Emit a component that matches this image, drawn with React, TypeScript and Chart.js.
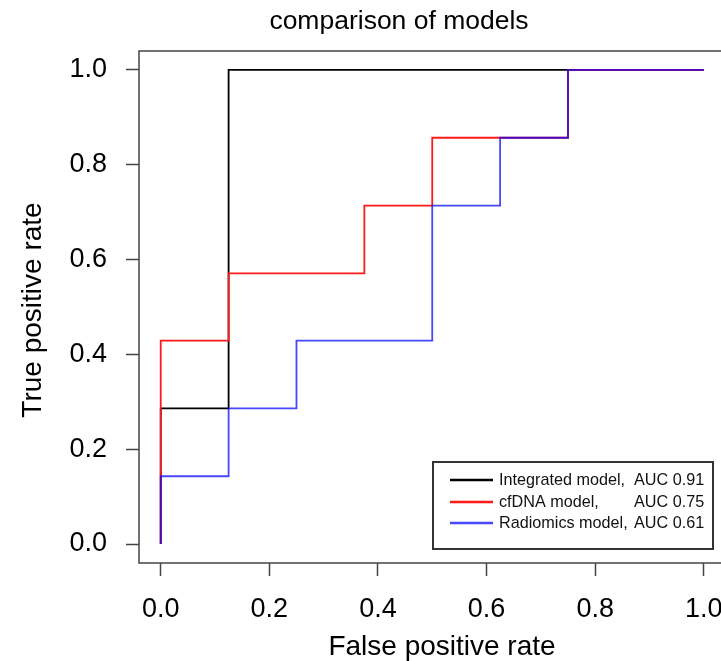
import React, { useEffect, useRef } from "react";
import { Chart, registerables } from "chart.js";
Chart.register(...registerables);

const TITLE = "comparison of models";
const X_LABEL = "False positive rate";
const Y_LABEL = "True positive rate";
const TICKS = [0, 0.2, 0.4, 0.6, 0.8, 1.0];

const SERIES_NAMES = ["Integrated model,", "cfDNA model,", "Radiomics model,"];
const AUC_LABELS = ["AUC 0.91", "AUC 0.75", "AUC 0.61"];
const COLORS = ["#000000", "#ff1a1a", "rgba(0,0,255,0.72)"];

const integratedFPR = [0, 0, 0.125, 0.125, 1];
const integratedTPR = [0, 0.286, 0.286, 1, 1];
const cfdnaFPR = [0, 0, 0.125, 0.125, 0.375, 0.375, 0.5, 0.5, 0.75, 0.75, 1];
const cfdnaTPR = [0, 0.429, 0.429, 0.571, 0.571, 0.714, 0.714, 0.857, 0.857, 1, 1];
const radiomicsFPR = [0, 0, 0.125, 0.125, 0.25, 0.25, 0.5, 0.5, 0.625, 0.625, 0.75, 0.75, 1];
const radiomicsTPR = [0, 0.143, 0.143, 0.286, 0.286, 0.429, 0.429, 0.714, 0.714, 0.857, 0.857, 1, 1];

const FONT = "'Liberation Sans', Arial, Helvetica, sans-serif";

const toPoints = (xs: number[], ys: number[]) => xs.map((x, i) => ({ x, y: ys[i] }));

const decorations = {
  id: "decorations",
  afterDraw(chart: any) {
    const { ctx, chartArea } = chart;
    const { left, top, right, bottom } = chartArea;
    ctx.save();
    // plot box
    ctx.strokeStyle = "#444";
    ctx.lineWidth = 1.5;
    ctx.strokeRect(left, top, right - left, bottom - top);

    ctx.fillStyle = "#000";
    // title
    ctx.font = `26.5px ${FONT}`;
    ctx.textAlign = "center";
    ctx.textBaseline = "alphabetic";
    ctx.fillText(TITLE, 399, 29);
    // x label
    ctx.font = `28px ${FONT}`;
    ctx.fillText(X_LABEL, 442, 655);
    // y label
    ctx.save();
    ctx.translate(41, (top + bottom) / 2 + 3);
    ctx.rotate(-Math.PI / 2);
    ctx.fillText(Y_LABEL, 0, 0);
    ctx.restore();

    // legend
    const bx = 433, by = 462, bw = 280, bh = 87;
    ctx.fillStyle = "#fff";
    ctx.fillRect(bx, by, bw, bh);
    ctx.strokeStyle = "#333";
    ctx.lineWidth = 2;
    ctx.strokeRect(bx, by, bw, bh);
    const rows = [480, 502, 523];
    ctx.font = `16.2px ${FONT}`;
    ctx.textBaseline = "middle";
    ctx.textAlign = "left";
    rows.forEach((ry, i) => {
      ctx.strokeStyle = COLORS[i];
      ctx.lineWidth = 2.5;
      ctx.beginPath();
      ctx.moveTo(450, ry);
      ctx.lineTo(493, ry);
      ctx.stroke();
      ctx.fillStyle = "#111";
      ctx.fillText(SERIES_NAMES[i], 499, ry + 1);
      ctx.fillText(AUC_LABELS[i], 634, ry + 1);
    });
    ctx.restore();
  },
};

export default function App() {
  const ref = useRef<HTMLCanvasElement | null>(null);
  useEffect(() => {
    if (!ref.current) return;
    const chart = new Chart(ref.current, {
      type: "scatter",
      data: {
        datasets: [
          { data: toPoints(integratedFPR, integratedTPR), borderColor: COLORS[0], order: 3 },
          { data: toPoints(cfdnaFPR, cfdnaTPR), borderColor: COLORS[1], order: 2 },
          { data: toPoints(radiomicsFPR, radiomicsTPR), borderColor: COLORS[2], order: 1 },
        ].map((d) => ({
          ...d,
          showLine: true,
          pointRadius: 0,
          borderWidth: 1.8,
          tension: 0,
          fill: false,
        })),
      },
      options: {
        animation: false,
        responsive: false,
        events: [],
        layout: { padding: { top: 51, left: 0, right: 13, bottom: 0 } },
        plugins: { legend: { display: false }, title: { display: false }, tooltip: { enabled: false } },
        scales: {
          x: {
            type: "linear",
            min: -0.04,
            max: 1.04,
            afterBuildTicks: (s: any) => { s.ticks = TICKS.map((v) => ({ value: v })); },
            afterFit: (s: any) => { s.height = 98; },
            border: { display: false },
            grid: { display: true, drawOnChartArea: false, drawTicks: true, tickLength: 13, tickColor: "#444", tickWidth: 1.5 },
            ticks: {
              autoSkip: false,
              maxRotation: 0,
              padding: 17,
              color: "#000",
              font: { family: FONT, size: 27 },
              callback: (v: any) => Number(v).toFixed(1),
            },
          },
          y: {
            type: "linear",
            min: -0.04,
            max: 1.04,
            afterBuildTicks: (s: any) => { s.ticks = TICKS.map((v) => ({ value: v })); },
            afterFit: (s: any) => { s.width = 139; },
            border: { display: false },
            grid: { display: true, drawOnChartArea: false, drawTicks: true, tickLength: 13, tickColor: "#444", tickWidth: 1.5 },
            ticks: {
              autoSkip: false,
              padding: 19,
              color: "#000",
              font: { family: FONT, size: 27 },
              callback: (v: any) => Number(v).toFixed(1),
            },
          },
        },
      },
      plugins: [decorations],
    });
    return () => chart.destroy();
  }, []);
  return (
    <div style={{ position: "fixed", left: 0, top: 0, width: 721, height: 661, overflow: "hidden", background: "#fff" }}>
      <canvas ref={ref} width={740} height={661} style={{ display: "block", width: 740, height: 661 }} />
    </div>
  );
}
